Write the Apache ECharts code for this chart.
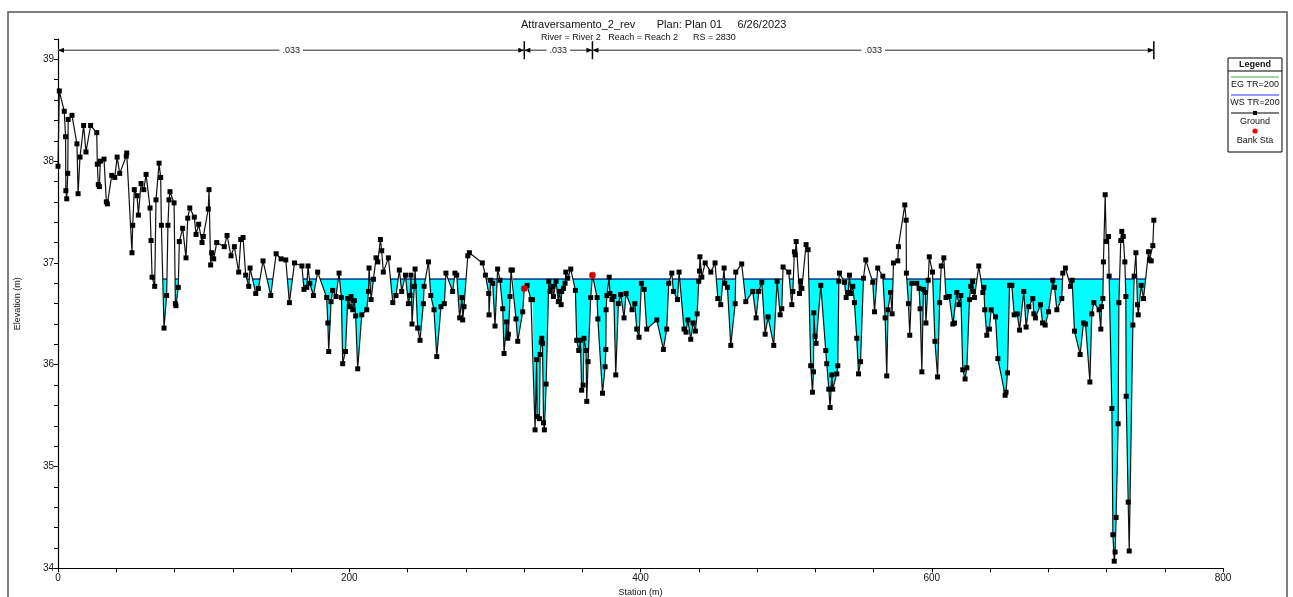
<!DOCTYPE html>
<html>
<head>
<meta charset="utf-8">
<script src="https://cdn.jsdelivr.net/npm/echarts@6/dist/echarts.min.js"></script>
<style>
  html, body { margin: 0; padding: 0; background: #fff; }
  #chart { width: 1293px; height: 597px; }
</style>
</head>
<body>
<div id="chart"></div>
<script>
// ground profile: [station (m), elevation (m)]
var ground = [
  [0.0,37.95],[0.9,38.69],[4.3,38.49],[5.2,38.24],[5.4,37.71],[6.0,37.63],[6.7,37.88],[7.0,38.41],
  [9.6,38.45],[13.0,38.17],[13.8,37.68],[15.1,38.04],[17.6,38.35],[19.2,38.09],[22.4,38.35],[26.6,38.28],
  [27.0,37.97],[27.7,37.77],[28.4,37.75],[29.1,38.00],[31.6,38.02],[33.2,37.60],[33.9,37.58],[36.9,37.86],
  [39.0,37.84],[40.6,38.04],[42.4,37.88],[46.9,38.05],[47.2,38.08],[50.8,37.10],[51.3,37.37],[52.4,37.72],
  [54.3,37.66],[55.2,37.47],[57.0,37.78],[58.9,37.72],[60.5,37.87],[63.2,37.54],[63.9,37.22],[64.6,36.86],
  [66.4,36.77],[67.3,37.62],[69.4,37.98],[70.5,37.84],[71.0,37.37],[72.8,36.36],[74.6,36.68],[75.5,37.37],
  [76.2,37.62],[76.9,37.70],[79.7,37.59],[80.6,36.60],[81.0,36.58],[82.6,36.76],[83.3,37.21],[85.6,37.34],
  [87.9,37.05],[89.1,37.44],[90.5,37.54],[93.6,37.45],[94.8,37.28],[96.6,37.38],[98.9,37.20],[99.8,37.26],
  [103.2,37.53],[103.7,37.72],[104.8,36.98],[105.5,37.10],[106.9,37.04],[109.0,37.20],[114.2,37.16],[116.1,37.27],
  [118.8,37.07],[121.1,37.16],[124.1,36.91],[125.5,37.23],[127.1,37.25],[128.9,36.88],[131.0,36.77],[131.9,36.95],
  [135.8,36.70],[137.6,36.75],[140.8,37.02],[146.1,36.68],[149.8,37.09],[153.2,37.04],[156.4,37.03],[158.9,36.61],
  [162.4,37.00],[167.5,36.97],[168.9,36.74],[170.8,36.76],[171.7,36.97],[172.9,36.80],[175.4,36.68],[178.3,36.91],
  [184.5,36.66],[185.3,36.41],[185.9,36.13],[187.5,36.62],[188.6,36.73],[190.9,36.67],[193.0,36.90],[194.6,36.66],
  [195.5,36.01],[197.4,36.13],[199.0,36.65],[200.1,36.57],[201.2,36.67],[202.4,36.54],[203.5,36.63],[204.4,36.48],
  [205.8,35.96],[208.6,36.49],[212.0,36.54],[213.2,36.72],[213.6,36.95],[215.0,36.64],[216.6,36.84],[218.4,37.05],
  [219.6,37.01],[221.4,37.23],[222.3,37.12],[223.4,36.91],[226.9,37.05],[229.9,36.61],[232.1,36.68],[234.4,36.93],
  [236.0,36.72],[238.6,36.88],[240.6,36.60],[241.8,36.68],[242.4,36.88],[243.1,36.40],[244.7,36.77],[245.2,36.94],
  [247.0,36.36],[248.6,36.24],[250.9,36.60],[251.4,36.77],[254.4,37.01],[256.0,36.68],[258.2,36.54],[260.1,36.08],
  [263.0,36.57],[265.3,36.60],[266.4,36.90],[271.0,36.72],[272.6,36.90],[273.8,36.88],[275.8,36.46],[277.4,36.66],
  [277.9,36.44],[278.8,36.57],[281.4,37.07],[282.5,37.10],[291.4,37.00],[293.5,36.88],[295.8,36.70],[296.0,36.49],
  [297.1,36.83],[298.5,36.80],[300.1,36.38],[301.9,36.94],[303.5,36.83],[305.4,36.55],[306.3,36.11],[308.1,36.42],
  [308.8,36.26],[309.3,36.30],[310.4,36.67],[311.1,36.93],[312.0,36.93],[314.5,36.45],[315.7,36.23],[319.1,36.52],
  [320.2,36.75],[322.1,36.78],[324.8,36.64],[325.8,36.64],[327.6,35.36],[328.7,36.05],[329.0,35.49],[330.6,35.47],
  [331.1,36.10],[331.8,36.22],[332.2,36.26],[332.7,36.21],[333.4,35.43],[334.0,35.36],[335.2,35.81],[337.0,36.82],
  [337.9,36.72],[339.7,36.77],[340.2,36.67],[342.0,36.82],[343.6,36.62],[344.3,36.72],[345.5,36.59],[345.9,36.72],
  [347.1,36.75],[348.2,36.80],[348.7,36.91],[350.0,36.85],[352.1,36.94],[355.3,36.73],[356.2,36.24],[357.6,36.14],
  [358.7,36.24],[359.6,35.75],[360.6,35.80],[361.2,36.26],[362.6,36.14],[363.1,35.64],[364.0,36.03],[365.8,36.66],
  [367.0,36.88],[370.2,36.66],[370.7,36.45],[373.9,35.72],[375.7,35.98],[376.2,36.15],[376.4,36.54],[376.9,36.68],
  [378.5,36.86],[379.0,36.70],[380.4,36.64],[381.7,36.67],[383.0,35.90],[384.8,36.60],[386.4,36.69],[388.7,36.46],
  [390.1,36.70],[394.2,36.54],[396.1,36.60],[397.4,36.35],[399.0,36.27],[400.6,36.80],[402.5,36.74],[404.3,36.35],
  [411.2,36.44],[415.7,36.15],[418.0,36.35],[419.4,36.80],[421.5,36.90],[422.6,36.72],[425.4,36.64],[426.5,36.91],
  [429.9,36.35],[431.3,36.32],[432.5,36.44],[434.5,36.25],[436.1,36.41],[437.7,36.33],[438.9,36.50],[440.0,36.82],
  [440.5,36.92],[440.8,37.06],[442.1,36.86],[444.4,37.00],[448.3,36.91],[451.2,37.00],[453.1,36.65],[455.1,36.59],
  [457.4,36.95],[457.9,36.80],[459.7,36.76],[462.0,36.19],[465.0,36.60],[465.4,36.91],[469.5,36.99],[472.3,36.62],
  [477.1,36.72],[479.4,36.46],[481.2,36.72],[483.3,36.81],[485.6,36.30],[487.6,36.47],[491.5,36.19],[493.8,36.82],
  [495.9,36.49],[497.0,36.55],[497.9,36.96],[501.8,36.91],[503.9,36.59],[504.6,36.72],[505.7,37.11],[506.2,37.08],
  [506.9,37.21],[509.2,36.70],[509.8,36.82],[510.8,36.75],[513.7,37.18],[515.1,37.13],[516.9,35.99],[518.1,35.73],
  [518.8,35.93],[519.0,36.51],[519.9,36.28],[520.6,36.21],[523.8,36.78],[527.2,36.14],[527.9,36.01],[529.3,35.76],
  [530.2,35.58],[531.4,35.90],[532.0,35.76],[534.8,35.91],[535.5,35.99],[536.2,36.82],[536.6,36.90],[540.1,36.81],
  [541.2,36.66],[542.6,36.71],[543.5,36.88],[544.4,36.70],[545.8,36.77],[546.9,36.61],[548.5,36.26],[549.7,35.91],
  [551.1,36.03],[553.1,36.85],[554.7,37.03],[559.5,36.81],[560.7,36.52],[562.9,36.95],[566.4,36.87],[568.0,36.46],
  [569.1,35.89],[570.0,36.54],[571.7,36.71],[572.8,36.50],[573.7,37.00],[576.7,37.02],[577.1,37.16],[581.5,37.57],
  [582.4,37.42],[582.6,36.90],[584.0,36.60],[584.9,36.29],[586.3,36.80],[589.7,36.80],[591.3,36.75],[592.0,36.55],
  [593.2,35.93],[594.3,36.74],[595.5,36.71],[596.0,36.41],[597.6,36.83],[598.3,37.06],[600.5,36.91],[602.2,36.23],
  [604.0,35.88],[605.4,36.61],[606.5,36.97],[608.3,37.05],[609.8,36.66],[612.0,36.67],[614.5,36.40],[615.6,36.41],
  [617.2,36.71],[618.6,36.59],[620.0,36.68],[621.3,35.95],[622.9,35.86],[624.1,35.97],[625.9,36.64],[626.8,36.77],
  [628.0,36.82],[628.7,36.72],[629.3,36.66],[632.3,36.97],[635.1,36.71],[635.8,36.76],[636.4,36.54],[637.8,36.29],
  [639.6,36.35],[640.8,36.54],[643.8,36.47],[645.4,36.06],[650.4,35.70],[651.0,35.73],[652.0,35.92],[653.4,36.78],
  [655.0,36.78],[656.6,36.49],[658.7,36.50],[660.3,36.34],[663.2,36.72],[664.8,36.37],[666.7,36.57],[669.4,36.65],
  [670.1,36.50],[671.2,36.46],[674.7,36.59],[676.1,36.41],[677.9,36.39],[680.2,36.52],[683.1,36.83],[684.3,36.76],
  [685.9,36.54],[689.3,36.65],[690.0,36.90],[691.8,36.95],[695.3,36.77],[696.4,36.83],[698.0,36.33],[701.9,36.10],
  [704.2,36.41],[705.6,36.40],[708.6,35.83],[709.9,36.50],[711.3,36.61],[714.9,36.54],[716.1,36.35],[716.6,36.57],
  [717.5,36.65],[717.9,37.01],[719.1,37.67],[719.8,37.21],[721.4,37.26],[721.8,36.87],[723.7,35.57],[724.4,34.33],
  [725.3,34.07],[725.9,34.16],[726.6,34.50],[728.0,35.42],[728.5,36.61],[729.8,37.22],[730.5,37.31],[731.5,37.26],
  [732.6,37.01],[733.3,36.67],[733.5,35.69],[734.9,34.65],[735.6,34.17],[738.1,36.39],[739.0,36.87],[740.2,37.10],
  [741.3,36.59],[741.8,36.49],[743.8,36.78],[745.4,36.65],[748.9,37.11],[749.5,37.03],[750.7,37.02],[751.8,37.17],
  [752.5,37.42]
];

// bank stations
var bankSta = [[320.2, 36.75], [367.0, 36.88]];

// Manning's n regions
var nBreaks = [0, 320.2, 367.0, 752.5];
var nValues = ['.033', '.033', '.033'];
var nElev = 39.09;

// water surface / energy grade, TR=200
var wsElev = 36.84;
var egElev = 36.843;

var xTicks = [0, 200, 400, 600, 800];
var yTicks = [34, 35, 36, 37, 38, 39];

var FONT = '"Liberation Sans Narrow", "Liberation Sans", Arial, sans-serif';
var X_MIN = 0, X_MAX = 800, Y_MIN = 34, Y_MAX = 39.2;

var nSegments = [];
for (var i = 0; i < nValues.length; i++) {
  nSegments.push([nBreaks[i], nBreaks[i + 1]]);
}

var myChart = echarts.init(document.getElementById('chart'));

function legendBox() {
  var L = 1228, R = 1282, C = (L + R) / 2;
  var txt = function (t, y, bold) {
    return { type: 'text', x: C, y: y, style: { text: t, align: 'center', verticalAlign: 'middle',
      font: (bold ? 'bold ' : '') + '9px ' + FONT, fill: '#111' } };
  };
  var ln = function (y, color) {
    return { type: 'line', shape: { x1: L + 3, y1: y, x2: R - 3, y2: y }, style: { stroke: color, lineWidth: 1 } };
  };
  return [
    { type: 'rect', shape: { x: L, y: 58, width: R - L, height: 94 }, style: { fill: '#fff', stroke: '#000', lineWidth: 1 } },
    txt('Legend', 64.5, true),
    { type: 'line', shape: { x1: L, y1: 71, x2: R, y2: 71 }, style: { stroke: '#000', lineWidth: 1 } },
    ln(77, '#4aa84a'),
    txt('EG TR=200', 85),
    ln(95, '#3333ff'),
    txt('WS TR=200', 102.5),
    ln(113, '#000'),
    { type: 'rect', shape: { x: C - 2, y: 111, width: 4, height: 4 }, style: { fill: '#000' } },
    txt('Ground', 121.5),
    { type: 'circle', shape: { cx: C, cy: 131, r: 2.6 }, style: { fill: '#ff0000' } },
    txt('Bank Sta', 141)
  ];
}

var option = {
  animation: false,
  backgroundColor: '#fff',
  title: [
    { text: 'Attraversamento_2_rev       Plan: Plan 01     6/26/2023', left: 516, top: 14,
      textStyle: { fontFamily: FONT, fontSize: 11, fontWeight: 'normal', color: '#111' } },
    { text: 'River = River 2   Reach = Reach 2      RS = 2830', left: 536, top: 28,
      textStyle: { fontFamily: FONT, fontSize: 9, fontWeight: 'normal', color: '#111' } }
  ],
  grid: { left: 58, top: 39, width: 1165, height: 529.3, containLabel: false, outerBoundsMode: 'none' },
  xAxis: {
    type: 'value', min: X_MIN, max: X_MAX, interval: 40,
    name: 'Station (m)', nameLocation: 'middle', nameGap: 19,
    nameTextStyle: { fontFamily: FONT, fontSize: 9, color: '#111' },
    axisLine: { onZero: false, lineStyle: { color: '#000', width: 1.2 } },
    axisTick: { length: 4, lineStyle: { color: '#000' } },
    axisLabel: { interval: 0, margin: 5, fontFamily: FONT, fontSize: 10, color: '#111',
      formatter: function (v) { return xTicks.indexOf(v) >= 0 ? String(v) : ''; } },
    splitLine: { show: false }
  },
  yAxis: {
    type: 'value', min: Y_MIN, max: Y_MAX, interval: 0.2,
    name: 'Elevation (m)', nameLocation: 'middle', nameGap: 36, nameRotate: 90,
    nameTextStyle: { fontFamily: FONT, fontSize: 9, color: '#111' },
    axisLine: { onZero: false, lineStyle: { color: '#000', width: 1.2 } },
    axisTick: { length: 4, lineStyle: { color: '#000' } },
    axisLabel: { interval: 0, margin: 4, fontFamily: FONT, fontSize: 10, color: '#111',
      formatter: function (v) {
        var r = Math.round(v);
        return (Math.abs(v - r) < 1e-6 && yTicks.indexOf(r) >= 0) ? String(r) : '';
      } },
    splitLine: { show: false }
  },
  graphic: [
    { type: 'rect', shape: { x: 8, y: 12, width: 1279, height: 600 }, style: { fill: 'none', stroke: '#555', lineWidth: 1.5 }, z: -10 }
  ].concat(legendBox()),
  series: [
    {
      // water: area under the WS level and above the ground, plus WS/EG lines over wet parts
      type: 'custom', z: 1, silent: true,
      data: [[400, 36]],
      renderItem: function (params, api) {
        var pts = ground.map(function (p) { return api.coord(p); });
        var top = api.coord([0, Y_MAX])[1] - 50;
        var bot = api.coord([0, Y_MIN])[1];
        var wsY = api.coord([0, wsElev])[1];
        var egY = api.coord([0, egElev])[1];
        var x0 = pts[0][0], x1 = pts[pts.length - 1][0];
        var air = pts.concat([[x1, top], [x0, top]]);
        var clip = function () { return { type: 'polygon', shape: { points: air } }; };
        return {
          type: 'group',
          children: [
            { type: 'rect', shape: { x: x0, y: wsY, width: x1 - x0, height: bot - wsY },
              style: { fill: '#00ffff' }, clipPath: clip() },
            { type: 'line', shape: { x1: x0, y1: wsY, x2: x1, y2: wsY },
              style: { stroke: '#2020ff', lineWidth: 1.6 }, clipPath: clip() },
            { type: 'line', shape: { x1: x0, y1: egY, x2: x1, y2: egY },
              style: { stroke: '#1f7f6a', lineWidth: 1.2 }, clipPath: clip() }
          ]
        };
      }
    },
    {
      name: 'Ground', type: 'line', z: 3,
      data: ground,
      symbol: 'rect', symbolSize: 5, showAllSymbol: true,
      itemStyle: { color: '#000' },
      lineStyle: { color: '#111', width: 1.2 }
    },
    {
      name: 'Bank Sta', type: 'scatter', z: 4,
      data: bankSta,
      symbol: 'circle', symbolSize: 7,
      itemStyle: { color: '#ff0000' }
    },
    {
      // n-value bands along the top
      type: 'custom', z: 4, silent: true,
      data: nSegments,
      encode: { x: [0, 1] },
      renderItem: function (params, api) {
        var a = api.coord([api.value(0), nElev]);
        var b = api.coord([api.value(1), nElev]);
        var y = a[1];
        return {
          type: 'group',
          children: [
            { type: 'line', shape: { x1: a[0], y1: y, x2: b[0], y2: y }, style: { stroke: '#707070', lineWidth: 1.5 } },
            { type: 'polygon', shape: { points: [[a[0], y], [a[0] + 6, y - 2.5], [a[0] + 6, y + 2.5]] }, style: { fill: '#000' } },
            { type: 'polygon', shape: { points: [[b[0], y], [b[0] - 6, y - 2.5], [b[0] - 6, y + 2.5]] }, style: { fill: '#000' } },
            { type: 'line', shape: { x1: b[0], y1: y - 9, x2: b[0], y2: y + 9 }, style: { stroke: '#000', lineWidth: 1.5 } },
            { type: 'text', x: (a[0] + b[0]) / 2, y: y,
              style: { text: nValues[params.dataIndex], align: 'center', verticalAlign: 'middle',
                font: '9px ' + FONT, fill: '#222', backgroundColor: '#fff', padding: [0, 3] } }
          ]
        };
      }
    }
  ]
};

myChart.setOption(option);
</script>
</body>
</html>
